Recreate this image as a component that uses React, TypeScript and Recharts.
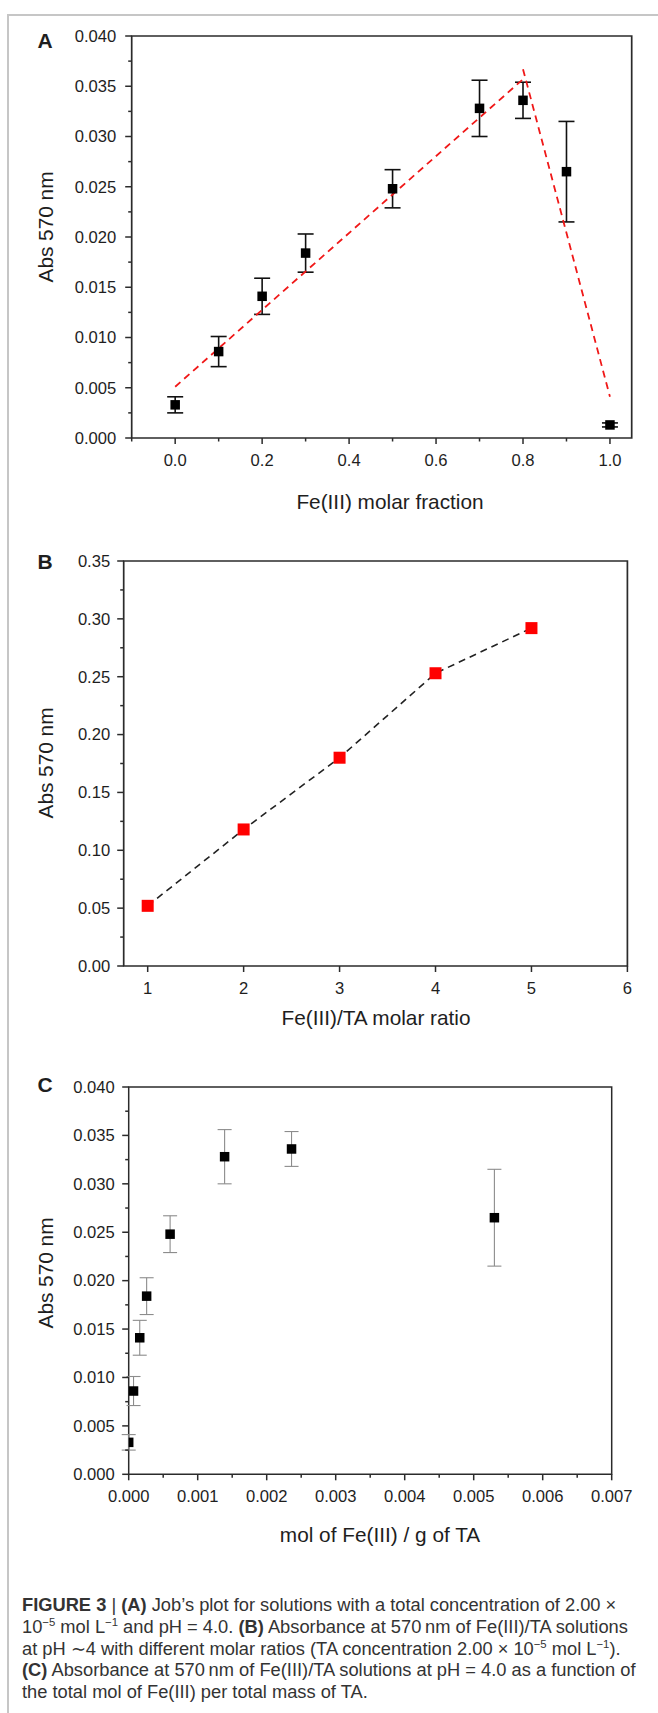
import React from 'react';
import { ScatterChart, Scatter, XAxis, YAxis, ErrorBar, ReferenceArea } from 'recharts';

// Panel A: Job's plot
const fractionA = [0.0, 0.1, 0.2, 0.3, 0.5, 0.7, 0.8, 0.9, 1.0];
const absA = [0.0033, 0.0086, 0.0141, 0.0184, 0.0248, 0.0328, 0.0336, 0.0265, 0.0013];
const errA = [0.0008, 0.0015, 0.0018, 0.0019, 0.0019, 0.0028, 0.0018, 0.005, 0.0002];
const riseX = [0.0, 0.8];
const riseY = [0.0051, 0.0357];
const fallX = [0.8, 1.0];
const fallY = [0.0367, 0.0041];

// Panel B: molar ratio
const ratioB = [1, 2, 3, 4, 5];
const absB = [0.052, 0.118, 0.18, 0.253, 0.292];

// Panel C: mol Fe(III) per g TA
const molC = [0.0, 0.00007, 0.00016, 0.00026, 0.0006, 0.00139, 0.00236, 0.0053];
const absC = [0.0033, 0.0086, 0.0141, 0.0184, 0.0248, 0.0328, 0.0336, 0.0265];
const errC = [0.0008, 0.0015, 0.0018, 0.0019, 0.0019, 0.0028, 0.0018, 0.005];

// ticks
const absMajor = [0, 0.005, 0.01, 0.015, 0.02, 0.025, 0.03, 0.035, 0.04];
const absMinor = [0.0025, 0.0075, 0.0125, 0.0175, 0.0225, 0.0275, 0.0325, 0.0375];
const fracMajor = [0, 0.2, 0.4, 0.6, 0.8, 1.0];
const fracMinor = [-0.1, 0.1, 0.3, 0.5, 0.7, 0.9];
const absBMajor = [0, 0.05, 0.1, 0.15, 0.2, 0.25, 0.3, 0.35];
const absBMinor = [0.025, 0.075, 0.125, 0.175, 0.225, 0.275, 0.325];
const ratioMajor = [1, 2, 3, 4, 5, 6];
const molMajor = [0, 0.001, 0.002, 0.003, 0.004, 0.005, 0.006, 0.007];
const molMinor = [0.0005, 0.0015, 0.0025, 0.0035, 0.0045, 0.0055, 0.0065];

const FONT = '"Liberation Sans", Arial, Helvetica, sans-serif';
const AXIS = '#2b2b2b';
const TEXT = '#1e1e1e';
const TICK_FONT = 16.6;

const sorted = (a: number[], b: number[]) => [...a, ...b].sort((p, q) => p - q);
const isIn = (list: number[], v: number) => list.some((m) => Math.abs(m - v) < 1e-12);

const bottomTick = (majors: number[], fmt: (v: number) => string) => (p: any) => {
  const v = p.payload.value;
  const major = isIn(majors, v);
  return (
    <g>
      <line x1={p.x} x2={p.x} y1={p.y} y2={p.y + (major ? 6 : 3.5)} stroke={AXIS} strokeWidth={1.5} />
      {major && (
        <text x={p.x} y={p.y + 22} dy="0.35em" textAnchor="middle" fontSize={TICK_FONT} fill={TEXT} fontFamily={FONT}>
          {fmt(v)}
        </text>
      )}
    </g>
  );
};

const leftTick = (majors: number[], fmt: (v: number) => string, gap: number) => (p: any) => {
  const v = p.payload.value;
  const major = isIn(majors, v);
  return (
    <g>
      <line x1={p.x} x2={p.x - (major ? 6.5 : 3.5)} y1={p.y} y2={p.y} stroke={AXIS} strokeWidth={1.5} />
      {major && (
        <text x={p.x - gap} y={p.y} dy="0.35em" textAnchor="end" fontSize={TICK_FONT} fill={TEXT} fontFamily={FONT}>
          {fmt(v)}
        </text>
      )}
    </g>
  );
};

const square = (size: number, color: string) => (p: any) => {
  if (p.cx == null || p.cy == null) return <g />;
  return <rect x={p.cx - size / 2} y={p.cy - size / 2} width={size} height={size} fill={color} />;
};
const noDot = () => <g />;

const jobData = fractionA.map((x, i) => ({ x, y: absA[i], err: errA[i] }));
const riseData = riseX.map((x, i) => ({ x, y: riseY[i] }));
const fallData = fallX.map((x, i) => ({ x, y: fallY[i] }));
const ratioData = ratioB.map((x, i) => ({ x, y: absB[i] }));
const molData = molC.map((x, i) => ({ x, y: absC[i], err: errC[i] }));

type Geo = { L: number; R: number; T: number; B: number };
const geoA: Geo = { L: 131.7, R: 631.7, T: 36, B: 438 };
const geoB: Geo = { L: 123.7, R: 627.4, T: 560.7, B: 965.7 };
const geoC: Geo = { L: 128.7, R: 611.7, T: 1086.7, B: 1474 };

function Panel(props: {
  geo: Geo;
  xDomain: [number, number];
  yDomain: [number, number];
  xTicks: number[];
  xMajor: number[];
  xFmt: (v: number) => string;
  yTicks: number[];
  yMajor: number[];
  yFmt: (v: number) => string;
  yGap: number;
  frameWidth: number;
  children: React.ReactNode;
}) {
  const { geo } = props;
  const height = geo.B - geo.T + 60;
  // axes are 1px thick boxes, so margins are reduced by 1 to keep the plot box in place
  return (
    <div style={{ position: 'absolute', left: 0, top: geo.T - 20 }}>
      <ScatterChart
        width={658}
        height={height}
        margin={{ top: 20, left: geo.L - 1, right: 658 - geo.R, bottom: 39 }}
      >
        <XAxis
          type="number"
          dataKey="x"
          domain={props.xDomain}
          ticks={props.xTicks}
          interval={0}
          allowDataOverflow
          height={1}
          tickSize={0}
          tickMargin={0}
          tickLine={false}
          axisLine={false}
          tick={bottomTick(props.xMajor, props.xFmt)}
        />
        <YAxis
          type="number"
          dataKey="y"
          domain={props.yDomain}
          ticks={props.yTicks}
          interval={0}
          allowDataOverflow
          width={1}
          tickSize={0}
          tickMargin={0}
          tickLine={false}
          axisLine={false}
          tick={leftTick(props.yMajor, props.yFmt, props.yGap)}
        />
        <ReferenceArea
          x1={props.xDomain[0]}
          x2={props.xDomain[1]}
          y1={props.yDomain[0]}
          y2={props.yDomain[1]}
          fill="none"
          fillOpacity={0}
          stroke={AXIS}
          strokeWidth={props.frameWidth}
        />
        {props.children}
      </ScatterChart>
    </div>
  );
}

const labelStyle: React.CSSProperties = {
  position: 'absolute',
  fontFamily: FONT,
  color: TEXT,
  whiteSpace: 'nowrap',
  transform: 'translate(-50%, -50%)',
  lineHeight: 1,
};

function Title({ x, y, text, rotate }: { x: number; y: number; text: string; rotate?: boolean }) {
  return (
    <div
      style={{
        ...labelStyle,
        left: x,
        top: y,
        fontSize: 20.8,
        transform: rotate ? 'translate(-50%, -50%) rotate(-90deg)' : 'translate(-50%, -50%)',
      }}
    >
      {text}
    </div>
  );
}

function Letter({ x, y, text }: { x: number; y: number; text: string }) {
  return <div style={{ ...labelStyle, left: x, top: y, fontSize: 21, fontWeight: 700 }}>{text}</div>;
}

const sup: React.CSSProperties = { fontSize: '0.62em', verticalAlign: 'super', lineHeight: 0 };

export default function App() {
  const captionLine: React.CSSProperties = { whiteSpace: 'nowrap', height: 21.8 };
  return (
    <div
      style={{
        position: 'absolute',
        left: 0,
        top: 0,
        width: 658,
        height: 1713,
        overflow: 'hidden',
        background: '#fff',
        fontFamily: FONT,
      }}
    >
      <div
        style={{
          position: 'absolute',
          left: 7,
          top: 14,
          width: 720,
          height: 1760,
          borderTop: '2px solid #c6c6c6',
          borderLeft: '2px solid #c6c6c6',
        }}
      />

      <Panel
        geo={geoA}
        xDomain={[-0.1, 1.05]}
        yDomain={[0, 0.04]}
        xTicks={sorted(fracMajor, fracMinor)}
        xMajor={fracMajor}
        xFmt={(v) => v.toFixed(1)}
        yTicks={sorted(absMajor, absMinor)}
        yMajor={absMajor}
        yFmt={(v) => v.toFixed(3)}
        yGap={15.5}
        frameWidth={1.7}
      >
        <Scatter
          data={riseData}
          line={{ stroke: '#f01818', strokeWidth: 1.8, strokeDasharray: '7 5' }}
          shape={noDot}
          isAnimationActive={false}
        />
        <Scatter
          data={fallData}
          line={{ stroke: '#f01818', strokeWidth: 1.8, strokeDasharray: '7 5' }}
          shape={noDot}
          isAnimationActive={false}
        />
        <Scatter data={jobData} shape={square(9.5, '#000')} isAnimationActive={false}>
          <ErrorBar dataKey="err" direction="y" width={8} stroke="#111" strokeWidth={1.6} />
        </Scatter>
      </Panel>
      <Letter x={45} y={40} text="A" />
      <Title x={46} y={227} text="Abs 570 nm" rotate />
      <Title x={390} y={502} text="Fe(III) molar fraction" />

      <Panel
        geo={geoB}
        xDomain={[0.75, 6]}
        yDomain={[0, 0.35]}
        xTicks={ratioMajor}
        xMajor={ratioMajor}
        xFmt={(v) => String(v)}
        yTicks={sorted(absBMajor, absBMinor)}
        yMajor={absBMajor}
        yFmt={(v) => v.toFixed(2)}
        yGap={13.5}
        frameWidth={1.7}
      >
        <Scatter
          data={ratioData}
          line={{ stroke: '#222', strokeWidth: 1.6, strokeDasharray: '7 5' }}
          shape={square(12, '#ff0000')}
          isAnimationActive={false}
        />
      </Panel>
      <Letter x={45} y={561} text="B" />
      <Title x={46} y={763} text="Abs 570 nm" rotate />
      <Title x={376} y={1018} text="Fe(III)/TA molar ratio" />

      <Panel
        geo={geoC}
        xDomain={[0, 0.007]}
        yDomain={[0, 0.04]}
        xTicks={sorted(molMajor, molMinor)}
        xMajor={molMajor}
        xFmt={(v) => v.toFixed(3)}
        yTicks={sorted(absMajor, absMinor)}
        yMajor={absMajor}
        yFmt={(v) => v.toFixed(3)}
        yGap={14}
        frameWidth={1.5}
      >
        <Scatter data={molData} shape={square(9.5, '#000')} isAnimationActive={false}>
          <ErrorBar dataKey="err" direction="y" width={7} stroke="#8c8c8c" strokeWidth={1.1} />
        </Scatter>
      </Panel>
      <Letter x={45} y={1084} text="C" />
      <Title x={46} y={1273} text="Abs 570 nm" rotate />
      <Title x={380} y={1535} text="mol of Fe(III) / g of TA" />

      <div
        style={{
          position: 'absolute',
          left: 22,
          top: 1594,
          fontSize: 18.3,
          lineHeight: '21.8px',
          color: '#333',
        }}
      >
        <div style={captionLine}>
          <b>FIGURE 3</b> | <b>(A)</b> Job’s plot for solutions with a total concentration of 2.00 ×
        </div>
        <div style={captionLine}>
          10<span style={sup}>−5</span> mol L<span style={sup}>−1</span> and pH = 4.0. <b>(B)</b> Absorbance at
          570&#8201;nm of Fe(III)/TA solutions
        </div>
        <div style={captionLine}>
          at pH ∼4 with different molar ratios (TA concentration 2.00 × 10<span style={sup}>−5</span> mol L
          <span style={sup}>−1</span>).
        </div>
        <div style={captionLine}>
          <b>(C)</b> Absorbance at 570&#8201;nm of Fe(III)/TA solutions at pH = 4.0 as a function of
        </div>
        <div style={captionLine}>the total mol of Fe(III) per total mass of TA.</div>
      </div>
    </div>
  );
}
